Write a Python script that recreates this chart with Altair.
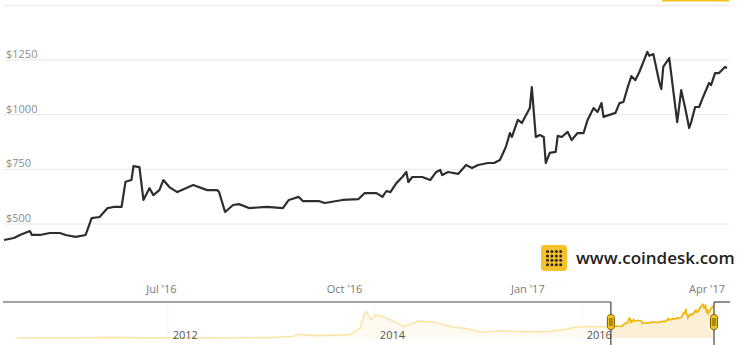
import altair as alt
import pandas as pd

# ---- main series (CoinDesk BPI, Apr 2016 - Apr 2017) ----
main_dates = [
    "2016-04-13", "2016-04-18", "2016-04-21", "2016-04-26", "2016-04-27", "2016-05-01",
    "2016-05-06", "2016-05-11", "2016-05-14", "2016-05-19", "2016-05-24", "2016-05-27",
    "2016-05-31", "2016-06-04", "2016-06-07", "2016-06-11", "2016-06-13", "2016-06-16",
    "2016-06-17", "2016-06-20", "2016-06-22", "2016-06-25", "2016-06-27", "2016-06-30",
    "2016-07-02", "2016-07-05", "2016-07-09", "2016-07-17", "2016-07-24", "2016-07-29",
    "2016-07-30", "2016-08-02", "2016-08-06", "2016-08-09", "2016-08-14", "2016-08-23",
    "2016-08-31", "2016-09-03", "2016-09-08", "2016-09-10", "2016-09-18", "2016-09-21",
    "2016-09-30", "2016-10-08", "2016-10-11", "2016-10-17", "2016-10-20", "2016-10-22",
    "2016-10-24", "2016-10-27", "2016-10-30", "2016-11-01", "2016-11-02", "2016-11-04",
    "2016-11-09", "2016-11-13", "2016-11-16", "2016-11-18", "2016-11-19", "2016-11-22",
    "2016-11-27", "2016-12-01", "2016-12-04", "2016-12-07", "2016-12-12", "2016-12-15",
    "2016-12-18", "2016-12-21", "2016-12-23", "2016-12-24", "2016-12-27", "2016-12-29",
    "2017-01-02", "2017-01-03", "2017-01-05", "2017-01-07", "2017-01-09", "2017-01-10",
    "2017-01-12", "2017-01-15", "2017-01-16", "2017-01-18", "2017-01-21", "2017-01-23",
    "2017-01-26", "2017-01-29", "2017-01-31", "2017-02-03", "2017-02-05", "2017-02-07",
    "2017-02-08", "2017-02-11", "2017-02-14", "2017-02-16", "2017-02-18", "2017-02-20",
    "2017-02-22", "2017-02-24", "2017-02-26", "2017-03-02", "2017-03-03", "2017-03-05",
    "2017-03-08", "2017-03-09", "2017-03-10", "2017-03-13", "2017-03-17", "2017-03-19",
    "2017-03-21", "2017-03-23", "2017-03-24", "2017-03-26", "2017-03-28", "2017-03-30",
    "2017-04-02", "2017-04-03", "2017-04-05", "2017-04-07", "2017-04-10", "2017-04-11",
]
main_prices = [
    427, 436, 450, 468, 450, 450,
    459, 459, 450, 441, 450, 527,
    532, 573, 578, 578, 693, 701,
    765, 760, 610, 664, 632, 655,
    701, 669, 646, 678, 655, 655,
    646, 555, 587, 591, 573, 578,
    573, 610, 624, 605, 605, 596,
    610, 614, 641, 641, 624, 651,
    646, 687, 715, 738, 692, 715,
    715, 701, 738, 747, 724, 738,
    729, 770, 756, 770, 779, 779,
    793, 853, 916, 898, 976, 962,
    1030, 1126, 898, 907, 898, 779,
    825, 830, 903, 898, 921, 884,
    916, 916, 976, 1030, 1012, 1053,
    990, 999, 1008, 1053, 1058, 1121,
    1176, 1158, 1195, 1287, 1269, 1277,
    1149, 1117, 1218, 1259, 966, 1112,
    1030, 939, 966, 1035, 1035, 1081,
    1145, 1135, 1190, 1190, 1218, 1213,
]

# ---- older history shown only in the navigator ----
hist_dates = [
    "2010-07-18", "2011-01-01", "2011-06-08", "2011-11-01", "2012-01-01", "2012-08-15",
    "2013-01-01", "2013-03-17", "2013-04-10", "2013-06-10", "2013-10-04", "2013-11-10",
    "2013-11-26", "2013-12-04", "2013-12-18", "2014-01-06", "2014-01-30", "2014-03-10",
    "2014-04-15", "2014-06-05", "2014-08-01", "2014-10-10", "2014-11-15", "2015-01-15",
    "2015-03-15", "2015-06-02", "2015-09-01", "2015-11-05", "2015-12-15", "2016-01-10",
    "2016-03-01", "2016-04-12",
]
hist_prices = [
    0.1, 0.3, 25, 3, 5, 12,
    13, 65, 140, 90, 130, 370,
    950, 1000, 700, 885, 820, 630,
    435, 655, 600, 400, 370, 220,
    280, 240, 240, 330, 420, 435,
    430, 425,
]

grid_values = [500, 750, 1000, 1250, 1500]
y_ticks = [500, 750, 1000, 1250]
y_labels = ["$500", "$750", "$1000", "$1250"]
x_tick_dates = ["2016-07-01", "2016-10-01", "2017-01-01", "2017-04-01"]
x_tick_labels = ["Jul '16", "Oct '16", "Jan '17", "Apr '17"]
nav_year_dates = ["2012-01-01", "2014-01-01", "2016-01-01"]
nav_year_labels = ["2012", "2014", "2016"]
view_start, view_end = "2016-04-13", "2017-04-12"
nav_start, nav_end = "2010-07-18", "2017-04-12"


def dt(s):
    y, m, d = (int(p) for p in s.split("-"))
    return alt.DateTime(year=y, month=m, date=d, utc=True)


def main_x():
    return alt.Scale(type="utc", domain=[dt(view_start), dt(view_end)], range=[4, 729])


def main_y():
    return alt.Scale(domain=[250, 1500], range=[278.7, 5.3], nice=False, zero=False)


def nav_x():
    return alt.Scale(type="utc", domain=[dt(nav_start), dt(nav_end)], range=[17, 714])


def nav_y():
    return alt.Scale(domain=[0, 1380], range=[338, 302], nice=False, zero=False)


FONT = "Open Sans"

main_df = pd.DataFrame({"date": main_dates, "price": main_prices})
nav_df = pd.DataFrame({"date": hist_dates + main_dates, "price": hist_prices + main_prices})
sel_df = pd.DataFrame({"s": [view_start, view_end]})

grid = alt.Chart(pd.DataFrame({"v": grid_values})).mark_rule(color="#e6e6e6", strokeWidth=1).encode(
    y=alt.Y("v:Q", scale=main_y(), axis=None), x=alt.value(4), x2=alt.value(729))

ylab = alt.Chart(pd.DataFrame({"v": y_ticks, "t": y_labels})).mark_text(
    align="left", baseline="alphabetic", dy=-2, font=FONT, fontSize=11, color="#8c8c8c").encode(
    y=alt.Y("v:Q", scale=main_y(), axis=None), x=alt.value(6), text="t:N")

xlab = alt.Chart(pd.DataFrame({"d": x_tick_dates, "t": x_tick_labels})).mark_text(
    align="center", baseline="alphabetic", font=FONT, fontSize=11, color="#7a7a7a").encode(
    x=alt.X("d:T", scale=main_x(), axis=None), y=alt.value(293), text="t:N")

line = alt.Chart(main_df).mark_line(color="#2e2e2e", strokeWidth=2.2, strokeJoin="round").encode(
    x=alt.X("date:T", scale=main_x(), axis=None), y=alt.Y("price:Q", scale=main_y(), axis=None))

nav_grid = alt.Chart(pd.DataFrame({"d": nav_year_dates})).mark_rule(color="#e6e6e6", strokeWidth=1).encode(
    x=alt.X("d:T", scale=nav_x(), axis=None), y=alt.value(302), y2=alt.value(342))

nav_area = alt.Chart(nav_df).mark_area(color="#fcefd6", opacity=1).encode(
    x=alt.X("date:T", scale=nav_x(), axis=None), y=alt.Y("price:Q", scale=nav_y(), axis=None),
    y2=alt.value(345))

nav_line = alt.Chart(nav_df).mark_line(color="#f2b705", strokeWidth=1.6).encode(
    x=alt.X("date:T", scale=nav_x(), axis=None), y=alt.Y("price:Q", scale=nav_y(), axis=None))

mask = alt.Chart(pd.DataFrame({"a": [nav_start], "b": [view_start]})).mark_rect(
    color="white", opacity=0.66).encode(
    x=alt.X("a:T", scale=nav_x(), axis=None), x2="b:T", y=alt.value(300), y2=alt.value(345))

nav_lab = alt.Chart(pd.DataFrame({"d": nav_year_dates, "t": nav_year_labels})).mark_text(
    align="left", baseline="alphabetic", dx=5, font=FONT, fontSize=11, color="#555555").encode(
    x=alt.X("d:T", scale=nav_x(), axis=None), y=alt.value(338.5), text="t:N")

outline_left = alt.Chart(pd.DataFrame({"s": [view_start]})).mark_rule(color="#444444", strokeWidth=1.2).encode(
    x=alt.X("s:T", scale=nav_x(), axis=None), x2=alt.value(3), y=alt.value(302))
outline_right = alt.Chart(pd.DataFrame({"s": [view_end]})).mark_rule(color="#444444", strokeWidth=1.2).encode(
    x=alt.X("s:T", scale=nav_x(), axis=None), x2=alt.value(730), y=alt.value(302))
outline_v = alt.Chart(sel_df).mark_rule(color="#444444", strokeWidth=1.2).encode(
    x=alt.X("s:T", scale=nav_x(), axis=None), y=alt.value(302), y2=alt.value(345))

handles = alt.Chart(sel_df).mark_rect(
    width=7, color="#f2c31c", stroke="#7a5c00", strokeWidth=1, cornerRadius=3).encode(
    x=alt.X("s:T", scale=nav_x(), axis=None), y=alt.value(314.5), y2=alt.value(329.5))
grip1 = alt.Chart(sel_df).mark_rule(color="#6b5000", strokeWidth=1, xOffset=-1).encode(
    x=alt.X("s:T", scale=nav_x(), axis=None), y=alt.value(318), y2=alt.value(326))
grip2 = alt.Chart(sel_df).mark_rule(color="#6b5000", strokeWidth=1, xOffset=1).encode(
    x=alt.X("s:T", scale=nav_x(), axis=None), y=alt.value(318), y2=alt.value(326))

# ---- decorations: range-selector edge and CoinDesk logo ----
top_bar = alt.Chart(pd.DataFrame({"k": [0]})).mark_rule(color="#f2c31c", strokeWidth=2).encode(
    x=alt.value(662), x2=alt.value(729), y=alt.value(0.5))

logo_box = alt.Chart(pd.DataFrame({"k": [0]})).mark_rect(color="#f6c22c", cornerRadius=3).encode(
    x=alt.value(541), x2=alt.value(567), y=alt.value(245), y2=alt.value(271))

logo_dots = alt.Chart(alt.sequence(0, 16, as_="i")).transform_calculate(
    px="547.5 + (datum.i % 4) * 4.4", py="251.5 + floor(datum.i / 4) * 4.4"
).mark_circle(color="#2a2a2a", size=9, opacity=1).encode(
    x=alt.X("px:Q", scale=None), y=alt.Y("py:Q", scale=None))

logo_text = alt.Chart(pd.DataFrame({"t": ["www.coindesk.com"]})).mark_text(
    align="left", baseline="alphabetic", font=FONT, fontSize=17, fontWeight=600, color="#222222").encode(
    x=alt.value(576), y=alt.value(264), text="t:N")

chart = alt.layer(
    grid, ylab, xlab, line,
    nav_grid, nav_area, nav_line, mask, nav_lab,
    outline_left, outline_right, outline_v, handles, grip1, grip2,
    top_bar, logo_box, logo_dots, logo_text,
).resolve_scale(x="independent", y="independent").properties(
    width=739, height=345, padding=0, autosize=alt.AutoSizeParams(type="none"),
    background="white",
).configure_view(stroke=None)

chart.save("out.html", embed_options={"renderer": "svg", "actions": False})
